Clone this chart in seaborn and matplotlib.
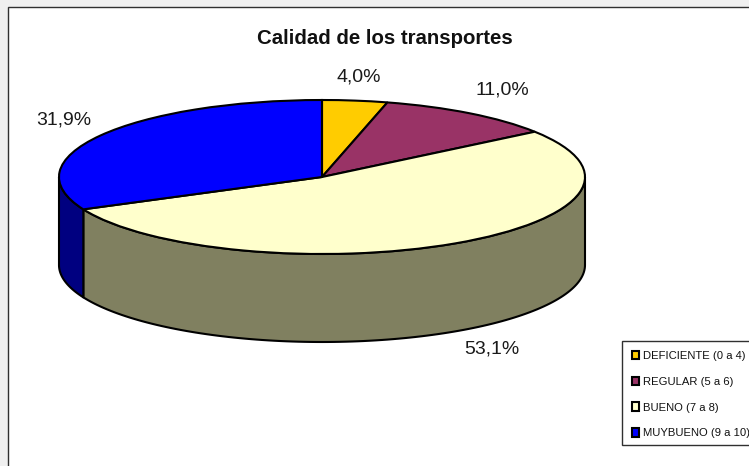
import numpy as np
import matplotlib
matplotlib.use("Agg")
import matplotlib.pyplot as plt
from matplotlib.patches import Rectangle
import seaborn as sns

# Data
categories = ["DEFICIENTE (0 a 4)", "REGULAR (5 a 6)", "BUENO (7 a 8)", "MUYBUENO (9 a 10)"]
values = [4.0, 11.0, 53.1, 31.9]
value_labels = ["4,0%", "11,0%", "53,1%", "31,9%"]
top_colors = ["#FFCC00", "#993366", "#FFFFCC", "#0000FF"]
side_colors = ["#806600", "#4D1A33", "#808060", "#000080"]
title = "Calidad de los transportes"

W, H = 749, 466
CX, CY, RX, RY, DEPTH = 322, 177, 263, 77, 88

sns.set_theme(style="white")
plt.rcParams["font.family"] = ["Liberation Sans", "DejaVu Sans"]

fig = plt.figure(figsize=(W / 100, H / 100), dpi=100, facecolor="#F0F0F0")
fig.add_artist(Rectangle((8 / W, 1 - 7 / H), 2, -2, transform=fig.transFigure,
                         facecolor="white", edgecolor="#303030", linewidth=1.0, zorder=-5))

ax = fig.add_axes([0, 0, 1, 1], facecolor="none")
palette = sns.color_palette(top_colors)
wedges, _ = ax.pie(values, colors=palette, startangle=90, counterclock=False,
                   radius=1, center=(0, 0),
                   wedgeprops=dict(edgecolor="black", linewidth=1.5, zorder=3))
ax.set_aspect("auto")
ax.set_xlim(-CX / RX, (W - CX) / RX)
ax.set_ylim(-(H - CY) / RY, CY / RY)
d = DEPTH / RY

# Rim: visible where the slice lies on the front half of the ellipse
edges = 90 - 3.6 * np.cumsum([0] + list(np.array(values) / sum(values) * 100))
for i in range(len(values)):
    a1, a0 = edges[i], edges[i + 1]
    lo, hi = max(a0, -180), min(a1, 0)
    if lo >= hi:
        continue
    t = np.radians(np.linspace(lo, hi, 120))
    x, y = np.cos(t), np.sin(t)
    ax.fill(np.r_[x, x[::-1]], np.r_[y, y[::-1] - d], facecolor=side_colors[i],
            edgecolor="black", linewidth=1.5, zorder=2, joinstyle="round")


def px(x, y):
    return x / W, 1 - y / H


for s, (x, y) in zip(value_labels, [(359, 77), (502, 90), (492, 349), (64, 120)]):
    fig.text(*px(x, y), s, ha="center", va="center", fontsize=14, color="#1a1a1a")
fig.text(*px(385, 38), title, ha="center", va="center", fontsize=14.7,
         fontweight="bold", color="#111111")

# Legend frame runs past the right edge of the picture, as in the reference
fig.add_artist(Rectangle((622 / W, 1 - 445 / H), 2, 104 / H, transform=fig.transFigure,
                         facecolor="white", edgecolor="#303030", linewidth=1.0, zorder=5))
leg = fig.legend(wedges, categories, loc="upper left", bbox_to_anchor=px(622, 341),
                 borderaxespad=0, fontsize=8.1, frameon=False,
                 handlelength=0.65, handleheight=0.75, handletextpad=0.32,
                 labelspacing=1.4, borderpad=0.88)
leg.set_zorder(6)
for t in leg.get_texts():
    t.set_color("#111111")

fig.savefig("out.png", dpi=100, facecolor=fig.get_facecolor())
